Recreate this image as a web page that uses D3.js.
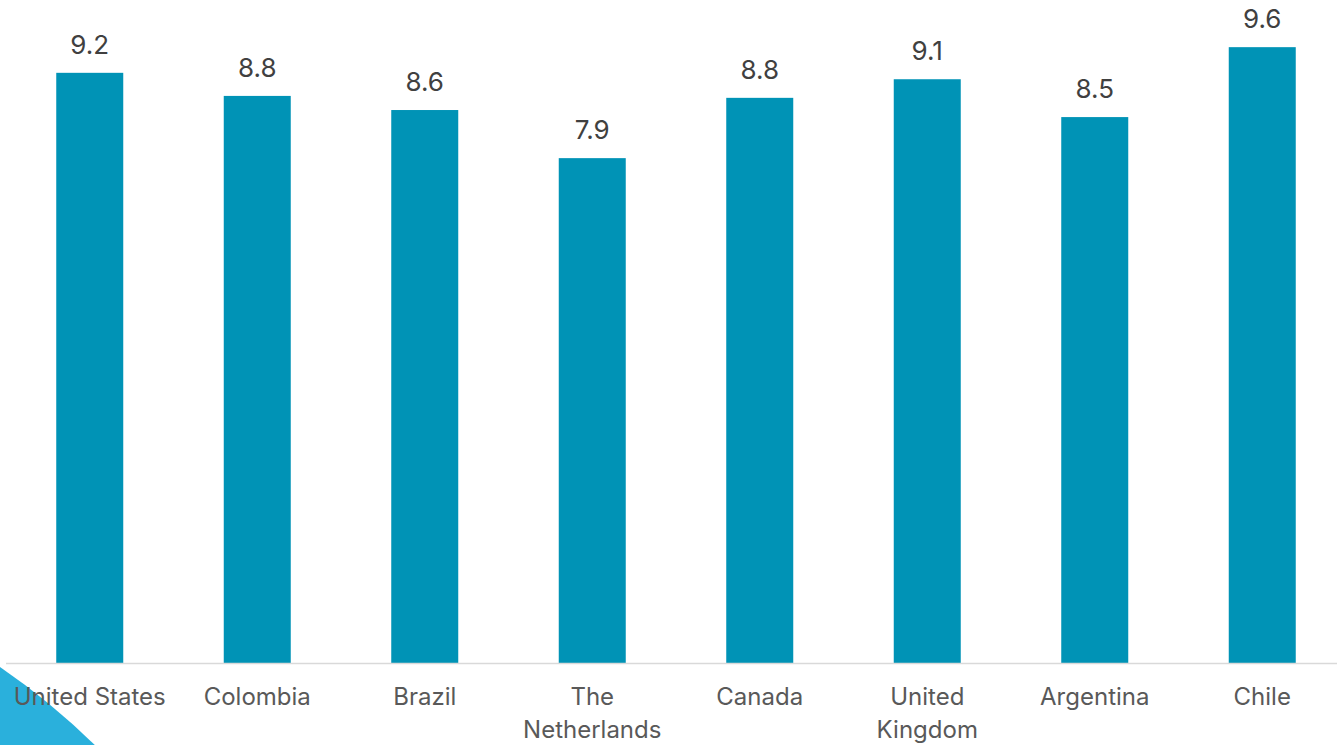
<!DOCTYPE html>
<html>
<head>
<meta charset="utf-8">
<script src="https://cdn.jsdelivr.net/npm/d3@7"></script>
<style>
  body { margin: 0; background: #fff; }
  svg { display: block; }
</style>
</head>
<body>
<svg id="chart"></svg>
<script>
// ---- data ----
const countries = ["United States", "Colombia", "Brazil", "The Netherlands", "Canada", "United Kingdom", "Argentina", "Chile"];
const scores = [9.2, 8.84, 8.62, 7.87, 8.81, 9.1, 8.51, 9.6];
// how each label wraps onto lines
const labelLines = [["United States"], ["Colombia"], ["Brazil"], ["The", "Netherlands"], ["Canada"], ["United", "Kingdom"], ["Argentina"], ["Chile"]];

const width = 1337, height = 745;
const baseY = 663;

const svg = d3.select("#chart")
    .attr("width", width)
    .attr("height", height);

// decorative circle in the corner
svg.append("circle")
    .attr("cx", -400)
    .attr("cy", 1250)
    .attr("r", 707)
    .attr("fill", "#2AB0DC");

const xs = d3.scaleBand()
    .domain(countries)
    .range([6, 1346])
    .paddingInner(0.6)
    .paddingOuter(0.3);

const ys = d3.scaleLinear()
    .domain([0, 10])
    .range([baseY, 21.5]);

const rows = countries.map((c, i) => ({country: c, score: scores[i], lines: labelLines[i]}));

// bars
svg.append("g")
    .selectAll("rect")
    .data(rows)
    .enter()
    .append("rect")
    .attr("x", d => xs(d.country))
    .attr("y", d => ys(d.score))
    .attr("width", xs.bandwidth())
    .attr("height", d => baseY - ys(d.score))
    .attr("fill", "#0093B6");

// baseline
svg.append("line")
    .attr("x1", 6)
    .attr("x2", width)
    .attr("y1", baseY + 0.5)
    .attr("y2", baseY + 0.5)
    .attr("stroke", "#d9d9d9")
    .attr("stroke-width", 1.5);

// value labels
svg.append("g")
    .selectAll("text")
    .data(rows)
    .enter()
    .append("text")
    .attr("x", d => xs(d.country) + xs.bandwidth() / 2)
    .attr("y", d => ys(d.score) - 19)
    .attr("text-anchor", "middle")
    .style("font-family", "Inter, 'Noto Sans', sans-serif")
    .style("font-size", "26px")
    .style("fill", "#404040")
    .text(d => d3.format(".1f")(d.score));

// category labels
const cat = svg.append("g")
    .selectAll("text")
    .data(rows)
    .enter()
    .append("text")
    .attr("x", d => xs(d.country) + xs.bandwidth() / 2)
    .attr("y", 705)
    .attr("text-anchor", "middle")
    .style("font-family", "Inter, 'Noto Sans', sans-serif")
    .style("font-size", "24px")
    .style("fill", "#595959");

cat.selectAll("tspan")
    .data(d => d.lines)
    .enter()
    .append("tspan")
    .attr("x", function() { return d3.select(this.parentNode).attr("x"); })
    .attr("dy", (d, i) => i === 0 ? 0 : 33)
    .text(d => d);
</script>
</body>
</html>
